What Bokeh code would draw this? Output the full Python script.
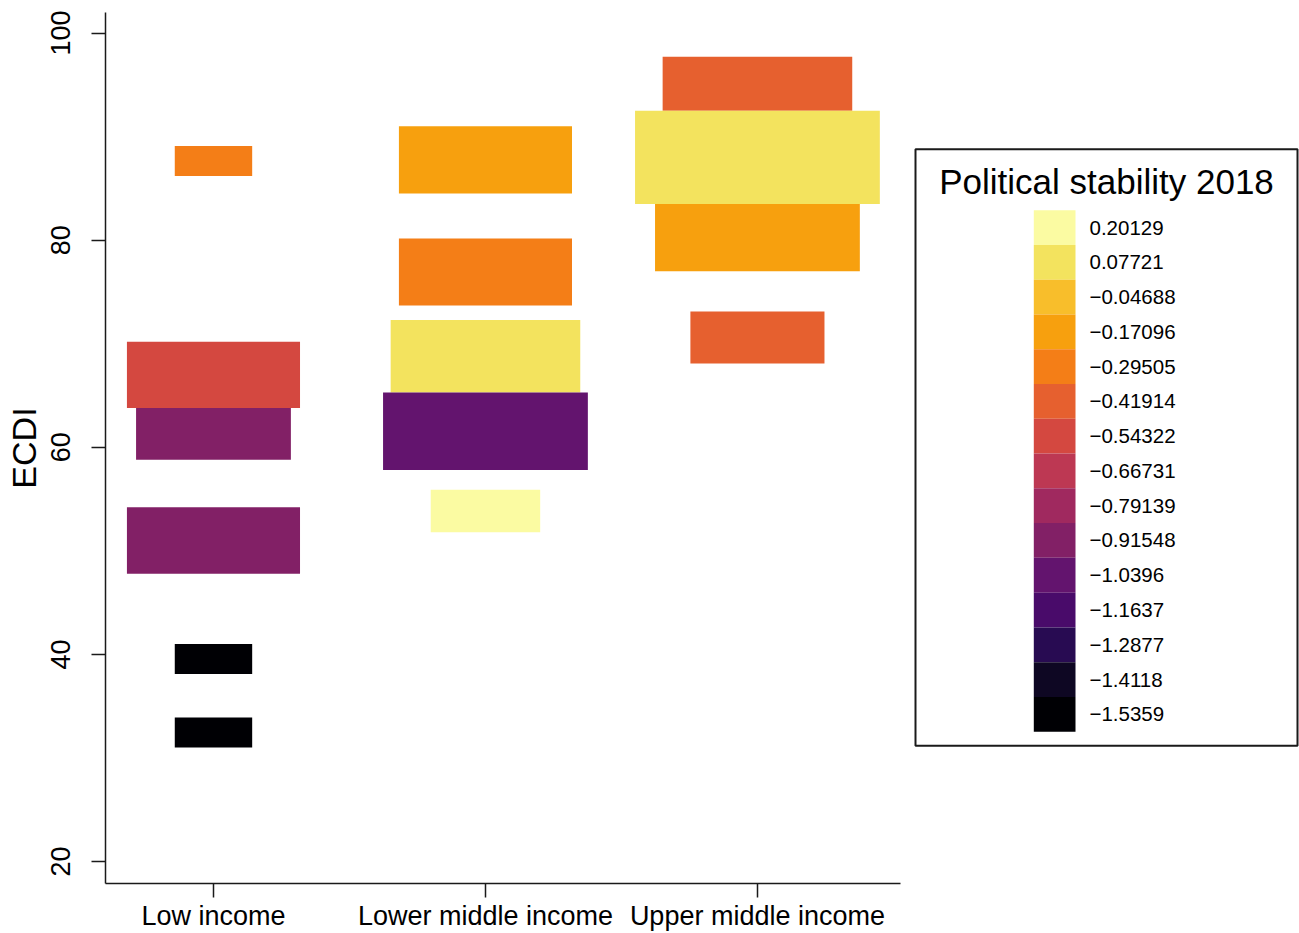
import math

from bokeh.core.properties import value
from bokeh.embed import file_html
from bokeh.layouts import row
from bokeh.models import ColumnDataSource, FixedTicker, Range1d
from bokeh.plotting import figure
from bokeh.resources import INLINE

FONT = "Liberation Sans"
INK = "#1a1a1a"

# Income groups along the x axis
income_groups = ["Low income", "Lower middle income", "Upper middle income"]

# Political stability 2018 classes (legend order, top to bottom) and their fills
stability_values = [0.20129, 0.07721, -0.04688, -0.17096, -0.29505, -0.41914,
                    -0.54322, -0.66731, -0.79139, -0.91548, -1.0396, -1.1637,
                    -1.2877, -1.4118, -1.5359]
stability_colors = ["#FBFBA2", "#F3E35E", "#F8BE2B", "#F7A00E", "#F47E17",
                    "#E6602F", "#D44840", "#BD3853", "#A0295F", "#822066",
                    "#63146E", "#490B6A", "#280B52", "#0E0723", "#000004"]

# ECDI bands: group index, lower / upper ECDI, number of countries, stability class
band_group = [0, 0, 0, 0, 0, 0,
              1, 1, 1, 1, 1,
              2, 2, 2, 2]
band_ecdi_low = [86.2, 63.8, 58.8, 47.8, 38.1, 31.0,
                 84.5, 73.7, 65.3, 57.8, 51.8,
                 92.5, 83.5, 77.0, 68.1]
band_ecdi_high = [89.1, 70.2, 63.8, 54.2, 41.0, 33.9,
                  91.0, 80.15, 72.3, 65.3, 55.9,
                  97.7, 92.5, 83.5, 73.1]
band_countries = [1, 5, 4, 5, 1, 1,
                  5, 5, 6, 7, 2,
                  6, 10, 7, 3]
band_stability = [-0.29505, -0.54322, -0.91548, -0.91548, -1.5359, -1.5359,
                  -0.17096, -0.29505, 0.07721, -1.0396, 0.20129,
                  -0.41914, 0.07721, -0.17096, -0.41914]

# block width grows with the square root of the country count
max_n = max(band_countries)
half_w = [0.45 * math.sqrt(n / max_n) for n in band_countries]
centers = [g + 1 for g in band_group]
src = ColumnDataSource(dict(
    left=[c - h for c, h in zip(centers, half_w)],
    right=[c + h for c, h in zip(centers, half_w)],
    bottom=band_ecdi_low,
    top=band_ecdi_high,
    color=[stability_colors[stability_values.index(v)] for v in band_stability],
))

FRAME_TOP, FRAME_BOTTOM = 12, 884

p = figure(width=905, height=933,
           x_range=Range1d(0.603, 3.526), y_range=Range1d(17.88, 101.98),
           output_backend="svg", toolbar_location=None,
           min_border_left=105, min_border_right=5,
           min_border_top=FRAME_TOP, min_border_bottom=933 - FRAME_BOTTOM)
p.quad(left="left", right="right", bottom="bottom", top="top",
       fill_color="color", line_color=None, source=src)

p.xgrid.visible = False
p.ygrid.visible = False
p.outline_line_color = None
p.background_fill_color = "white"
p.border_fill_color = "white"

for ax in (p.xaxis[0], p.yaxis[0]):
    ax.axis_line_color = INK
    ax.axis_line_width = 1.5
    ax.major_tick_line_color = INK
    ax.major_tick_line_width = 1.5
    ax.major_tick_out = 14
    ax.major_tick_in = 0
    ax.minor_tick_line_color = None
    ax.major_label_text_font = FONT
    ax.major_label_text_font_size = "27px"
    ax.major_label_text_color = "black"

p.xaxis.ticker = FixedTicker(ticks=[1, 2, 3])
p.xaxis.major_label_overrides = {i + 1: name for i, name in enumerate(income_groups)}
p.xaxis.major_label_standoff = 3

p.yaxis.ticker = FixedTicker(ticks=[20, 40, 60, 80, 100])
p.yaxis.major_label_orientation = "parallel"
p.yaxis.major_label_standoff = 21
p.yaxis.axis_label = "ECDI"
p.yaxis.axis_label_text_font = FONT
p.yaxis.axis_label_text_font_size = "34px"
p.yaxis.axis_label_text_font_style = "normal"
p.yaxis.axis_label_text_color = "black"
p.yaxis.axis_label_standoff = 6

# Colour key drawn in its own pixel-space panel (frame shares the plot's top/bottom)
LEG_W, LEG_H = 394, 933
q = figure(width=LEG_W, height=LEG_H,
           x_range=Range1d(0, LEG_W), y_range=Range1d(FRAME_BOTTOM, FRAME_TOP),
           output_backend="svg", toolbar_location=None,
           min_border_left=0, min_border_right=0,
           min_border_top=FRAME_TOP, min_border_bottom=LEG_H - FRAME_BOTTOM)
q.axis.visible = False
q.xgrid.visible = False
q.ygrid.visible = False
q.outline_line_color = None

box_left, box_right, box_top, box_bottom = 10, 392, 149, 746
swatch_left, swatch_right, swatch_top, swatch_step = 128.3, 170, 210, 34.8

q.quad(left=[box_left], right=[box_right], top=[box_top], bottom=[box_bottom],
       fill_color=None, line_color=INK, line_width=2)
q.text(x=[(box_left + box_right) / 2], y=[181], text=["Political stability 2018"],
       text_align="center", text_baseline="middle",
       text_font=value(FONT), text_font_size="35px", text_color="black")

k = len(stability_values)
sw_top = [swatch_top + i * swatch_step for i in range(k)]
q.quad(left=[swatch_left] * k, right=[swatch_right] * k,
       top=sw_top, bottom=[t + swatch_step for t in sw_top],
       fill_color=stability_colors, line_color=None)
q.text(x=[swatch_right + 14] * k, y=[t + swatch_step / 2 for t in sw_top],
       text=[str(v).replace("-", "\u2212") for v in stability_values],
       text_align="left", text_baseline="middle",
       text_font=value(FONT), text_font_size="20.5px", text_color="black")

layout = row(p, q)
open("out.html", "w").write(file_html(layout, INLINE))
